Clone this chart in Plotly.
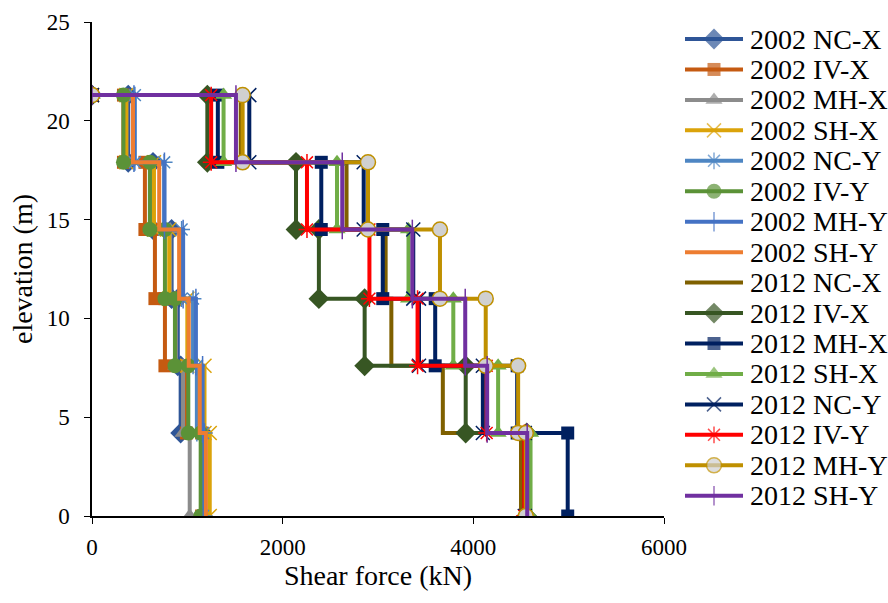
import plotly.graph_objects as go

# Floor elevations (m), bottom to top
elevations = [0.0, 4.2, 7.6, 11.0, 14.5, 17.9, 21.3]

# Story shear (kN), story 1 (bottom) to story 6 (top)
v2002_nc_x = [1160, 930, 900, 835, 640, 380]
v2002_iv_x = [1150, 990, 765, 660, 555, 330]
v2002_mh_x = [1025, 955, 880, 820, 620, 360]
v2002_sh_x = [1235, 1180, 1000, 810, 650, 360]
v2002_nc_y = [1165, 1100, 1060, 940, 757, 450]
v2002_iv_y = [1140, 1010, 870, 765, 607, 330]
v2002_mh_y = [1180, 1160, 1090, 956, 760, 440]
v2002_sh_y = [1195, 1130, 1015, 914, 705, 430]
v2012_nc_x = [4500, 3680, 3140, 3080, 2670, 1560]
v2012_iv_x = [4560, 3920, 2860, 2380, 2140, 1210]
v2012_mh_x = [4990, 4460, 3600, 3050, 2405, 1320]
v2012_sh_x = [4600, 4260, 3790, 3320, 2570, 1380]
v2012_nc_y = [4540, 4100, 3430, 3370, 2850, 1650]
v2012_iv_y = [4535, 4140, 3415, 2910, 2255, 1250]
v2012_mh_y = [4550, 4470, 4130, 3650, 2895, 1580]
v2012_sh_y = [4565, 4145, 3915, 3360, 2625, 1510]

names = ["2002 NC-X", "2002 IV-X", "2002 MH-X", "2002 SH-X",
         "2002 NC-Y", "2002 IV-Y", "2002 MH-Y", "2002 SH-Y",
         "2012 NC-X", "2012 IV-X", "2012 MH-X", "2012 SH-X",
         "2012 NC-Y", "2012 IV-Y", "2012 MH-Y", "2012 SH-Y"]
values = [v2002_nc_x, v2002_iv_x, v2002_mh_x, v2002_sh_x,
          v2002_nc_y, v2002_iv_y, v2002_mh_y, v2002_sh_y,
          v2012_nc_x, v2012_iv_x, v2012_mh_x, v2012_sh_x,
          v2012_nc_y, v2012_iv_y, v2012_mh_y, v2012_sh_y]

x_ticks = [0, 2000, 4000, 6000]
y_ticks = [0, 5, 10, 15, 20, 25]

styles = [
    dict(color="#2E5597", symbol="diamond", size=16),
    dict(color="#C55A11", symbol="square", size=13),
    dict(color="#8C8C8C", symbol="triangle-up", size=15),
    dict(color="#DBA30A", symbol="x-thin-open", size=14),
    dict(color="#4E86C3", symbol="asterisk-open", size=14),
    dict(color="#5B9237", symbol="circle", size=15),
    dict(color="#4472C4", symbol="line-ns-open", size=14),
    dict(color="#ED7D31", symbol=None, size=0),
    dict(color="#7F6000", symbol=None, size=0),
    dict(color="#375623", symbol="diamond", size=16),
    dict(color="#002060", symbol="square", size=13),
    dict(color="#70AD47", symbol="triangle-up", size=15),
    dict(color="#002060", symbol="x-thin-open", size=14),
    dict(color="#FF0000", symbol="asterisk-open", size=14),
    dict(color="#BF9000", symbol="circle", size=15, fill="#D0D0D0"),
    dict(color="#7030A0", symbol="line-ns-open", size=14),
]


def step_path(v):
    xs = [0]
    ys = [elevations[-1]]
    for i in range(len(v) - 1, -1, -1):
        xs += [v[i], v[i]]
        ys += [elevations[i + 1], elevations[i]]
    return xs, ys


def marker_for(st, sizes):
    if st["symbol"] in ("x-thin-open", "asterisk-open", "line-ns-open"):
        return dict(symbol=st["symbol"], size=sizes,
                    color=st["color"], line=dict(color=st["color"], width=1.5))
    if "fill" in st:
        return dict(symbol=st["symbol"], size=sizes, color=st["fill"],
                    line=dict(color=st["color"], width=1.5))
    return dict(symbol=st["symbol"], size=sizes, color=st["color"],
                line=dict(width=0))


fig = go.Figure()
for name, v, st in zip(names, values, styles):
    xs, ys = step_path(v)
    has_m = st["symbol"] is not None
    fig.add_trace(go.Scatter(
        x=xs, y=ys, name=name, showlegend=False,
        mode="lines+markers" if has_m else "lines",
        line=dict(color=st["color"], width=4),
        marker=marker_for(st, st["size"]) if has_m else None))

# ---- legend (Excel-style: large text, tight rows), drawn on a helper axis ----
W, H = 888, 603
ML, MR, MT, MB = 92, 8, 22, 87
plot_w = W - ML - MR
plot_h = H - MT - MB
main_w = 572                     # width of the main plotting area in px
leg_line_x0, leg_line_x1 = 685, 743
leg_text_x = 748
leg_row0, leg_row_step = 39, 30.45

for i, (name, st) in enumerate(zip(names, styles)):
    row = leg_row0 - MT + i * leg_row_step
    has_m = st["symbol"] is not None
    fig.add_trace(go.Scatter(
        x=[0, 0.5, 1], y=[row, row, row], xaxis="x2", yaxis="y2",
        showlegend=False, hoverinfo="skip",
        mode="lines+markers" if has_m else "lines",
        line=dict(color=st["color"], width=4),
        marker=marker_for(st, [0, st["size"], 0]) if has_m else None))
    fig.add_annotation(
        text=name, xref="paper", yref="y2",
        x=(leg_text_x - ML) / plot_w, y=row,
        xanchor="left", yanchor="middle", showarrow=False,
        font=dict(family="Liberation Serif", size=28, color="black"))

font_family = "Liberation Serif"
axis_common = dict(showgrid=False, zeroline=False, showline=True,
                   linecolor="black", linewidth=1.5, ticks="outside",
                   ticklen=6, tickcolor="black", automargin=False)
fig.update_layout(
    width=W, height=H,
    margin=dict(l=ML, r=MR, t=MT, b=MB),
    paper_bgcolor="white", plot_bgcolor="white",
    font=dict(family=font_family, size=23, color="black"),
    showlegend=False,
    xaxis=dict(domain=[0, main_w / plot_w], range=[0, 6000], tickvals=x_ticks,
               ticklabelstandoff=4,
               title=dict(text="Shear force (kN)", standoff=4), **axis_common),
    yaxis=dict(range=[0, 25], tickvals=y_ticks, ticklabelstandoff=10,
               title=dict(text="elevation (m)", standoff=6), **axis_common),
    xaxis2=dict(domain=[(leg_line_x0 - ML) / plot_w, (leg_line_x1 - ML) / plot_w],
                range=[0, 1], visible=False, anchor="y2", fixedrange=True),
    yaxis2=dict(domain=[0, 1], range=[plot_h, 0], visible=False,
                anchor="x2", fixedrange=True),
)

fig.write_html(
    "out.html",
    config={"displayModeBar": False},
    post_script="document.body.style.margin='0';document.body.style.padding='0';",
)
